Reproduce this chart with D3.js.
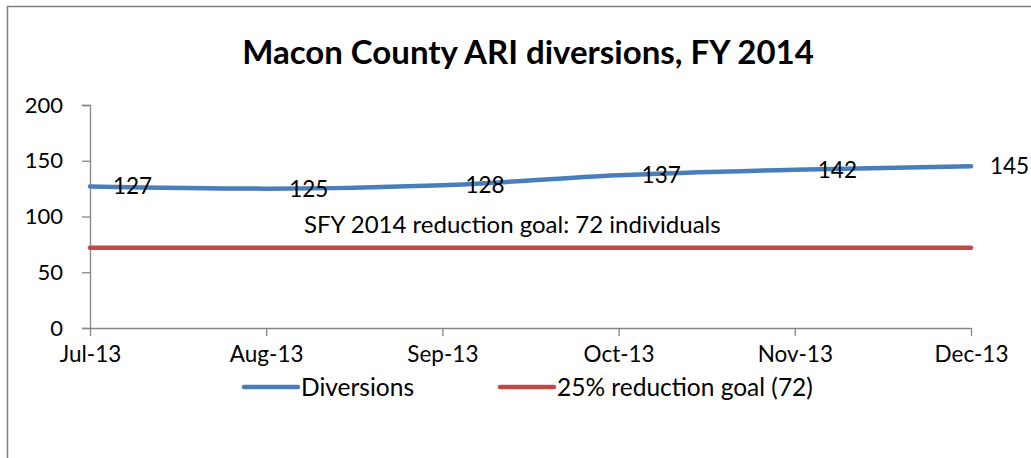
<!DOCTYPE html>
<html><head><meta charset="utf-8">
<script src="https://cdn.jsdelivr.net/npm/d3@7"></script>
<style>
body{margin:0;background:#fff;}
svg text{font-family:Lato,"Open Sans",sans-serif;}
</style></head>
<body>
<script>
const months = ["Jul-13","Aug-13","Sep-13","Oct-13","Nov-13","Dec-13"];
const diversions = [127,125,128,137,142,145];
const goal = [72,72,72,72,72,72];
const yTicks = [0,50,100,150,200];
const titleText = "Macon County ARI diversions, FY 2014";
const goalNote = "SFY 2014 reduction goal: 72 individuals";
const seriesNames = ["Diversions","25% reduction goal (72)"];
const colors = ["#4A7EBB","#BE4B48"];

const W=1031,H=458;
const svg=d3.select("body").append("svg").attr("width",W).attr("height",H);

// border
svg.append("path").attr("d","M7.5,458 V6.5 H1031").attr("fill","none").attr("stroke","#808080").attr("stroke-width",1.5);

const x=d3.scalePoint().domain(months).range([90,971]);
const y=d3.scaleLinear().domain([0,200]).range([328,105]);

svg.append("text").attr("x",528).attr("y",64).attr("text-anchor","middle")
  .attr("font-size",33).attr("font-weight","bold").text(titleText);

// y axis
const ya=svg.append("g").attr("transform","translate(90,0)")
  .call(d3.axisLeft(y).tickValues(yTicks).tickSize(8).tickPadding(19));
ya.select(".domain").attr("stroke","#868686").attr("stroke-width",1.3);
ya.selectAll(".tick line").attr("stroke","#868686").attr("stroke-width",1.3);
ya.selectAll(".tick text").attr("font-size",22).attr("fill","#000").attr("font-family","Lato,sans-serif");

// x axis
const xa=svg.append("g").attr("transform","translate(0,328)")
  .call(d3.axisBottom(x).tickSize(8).tickPadding(10).tickSizeOuter(0));
xa.select(".domain").attr("stroke","#868686").attr("stroke-width",1.3);
xa.selectAll(".tick line").attr("stroke","#868686").attr("stroke-width",1.3);
xa.selectAll(".tick text").attr("font-size",22.5).attr("fill","#000").attr("font-family","Lato,sans-serif");

const line=d3.line().x((d,i)=>x(months[i])).y(d=>y(d)).curve(d3.curveMonotoneX);
svg.append("path").datum(goal).attr("d",line).attr("fill","none")
  .attr("stroke",colors[1]).attr("stroke-width",4.5).attr("stroke-linecap","round");
svg.append("path").datum(diversions).attr("d",line).attr("fill","none")
  .attr("stroke",colors[0]).attr("stroke-width",4.5).attr("stroke-linecap","round");

svg.selectAll(".lbl").data(diversions).enter().append("text")
  .attr("x",(d,i)=>x(months[i])+(i===5?19:23)).attr("y",d=>y(d))
  .attr("dy","0.35em").attr("font-size",22.5).text(d=>d);

svg.append("text").attr("x",304).attr("y",225).attr("dy","0.35em")
  .attr("font-size",24).text(goalNote);

// legend
const leg=[{x1:244,x2:298},{x1:500,x2:554}];
leg.forEach((l,i)=>{
  svg.append("line").attr("x1",l.x1).attr("x2",l.x2).attr("y1",387).attr("y2",387)
    .attr("stroke",colors[i]).attr("stroke-width",4.5).attr("stroke-linecap","round");
  svg.append("text").attr("x",l.x2+3).attr("y",387).attr("dy","0.35em")
    .attr("font-size",24.5).text(seriesNames[i]);
});
</script>
</body></html>
